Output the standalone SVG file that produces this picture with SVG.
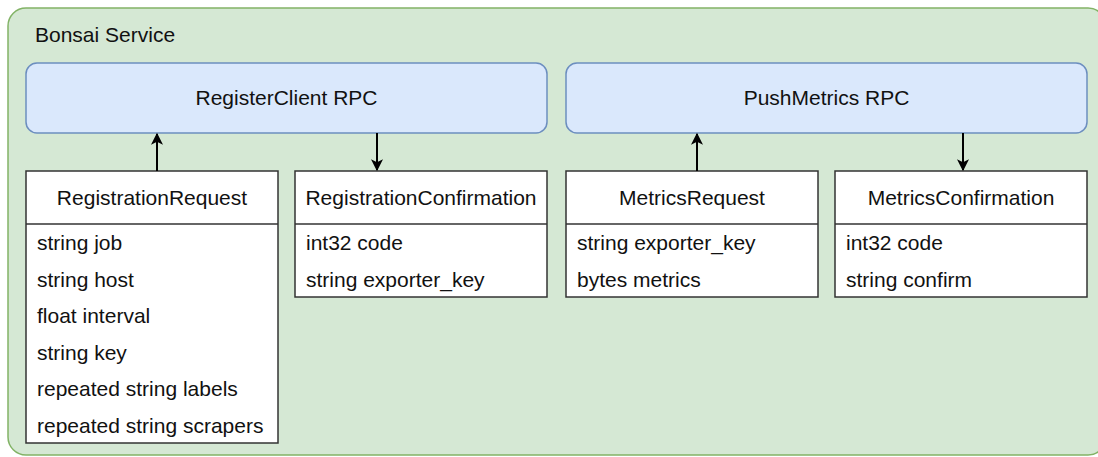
<svg xmlns="http://www.w3.org/2000/svg" width="1098" height="457" viewBox="0 0 1098 457">
  <defs>
    <marker id="arrow" viewBox="0 0 10 10" refX="9" refY="5" markerWidth="6" markerHeight="6" orient="auto" markerUnits="strokeWidth">
      <path d="M0,0 L10,5 L0,10 L2.5,5 z" fill="#000"/>
    </marker>
    <style>
      text { font-family: "Liberation Sans", Arial, Helvetica, sans-serif; font-size: 21px; fill: #111; }
      .container { fill: #d5e8d4; stroke: #82b366; stroke-width: 1.5; }
      .rpc { fill: #dae8fc; stroke: #6c8ebf; stroke-width: 1.5; }
      .box { fill: #ffffff; stroke: #333; stroke-width: 1.5; }
      .sep { stroke: #333; stroke-width: 1.5; }
      .conn { stroke: #000; stroke-width: 2; fill: none; marker-end: url(#arrow); }
      .c { text-anchor: middle; }
    </style>
  </defs>
  <rect width="1098" height="457" fill="#ffffff"/>

  <g id="bonsai-service">
    <rect class="container" x="8" y="8" width="1098" height="447" rx="18"/>
    <text x="35" y="42">Bonsai Service</text>
  </g>

  <g id="register-client-rpc">
    <rect class="rpc" x="26" y="63" width="521" height="70" rx="11"/>
    <text class="c" x="286.5" y="105">RegisterClient RPC</text>
  </g>

  <g id="push-metrics-rpc">
    <rect class="rpc" x="566" y="63" width="521" height="70" rx="11"/>
    <text class="c" x="826.5" y="105">PushMetrics RPC</text>
  </g>

  <g id="registration-request">
    <rect class="box" x="26" y="171" width="252" height="272"/>
    <line class="sep" x1="26" y1="224" x2="278" y2="224"/>
    <text class="c" x="152" y="205">RegistrationRequest</text>
    <text x="37" y="250">string job</text>
    <text x="37" y="286.5">string host</text>
    <text x="37" y="323">float interval</text>
    <text x="37" y="359.5">string key</text>
    <text x="37" y="396">repeated string labels</text>
    <text x="37" y="432.5">repeated string scrapers</text>
  </g>

  <g id="registration-confirmation">
    <rect class="box" x="295" y="171" width="252" height="126"/>
    <line class="sep" x1="295" y1="224" x2="547" y2="224"/>
    <text class="c" x="421" y="205">RegistrationConfirmation</text>
    <text x="306" y="250">int32 code</text>
    <text x="306" y="286.5">string exporter_key</text>
  </g>

  <g id="metrics-request">
    <rect class="box" x="566" y="171" width="252" height="126"/>
    <line class="sep" x1="566" y1="224" x2="818" y2="224"/>
    <text class="c" x="692" y="205">MetricsRequest</text>
    <text x="577" y="250">string exporter_key</text>
    <text x="577" y="286.5">bytes metrics</text>
  </g>

  <g id="metrics-confirmation">
    <rect class="box" x="835" y="171" width="252" height="126"/>
    <line class="sep" x1="835" y1="224" x2="1087" y2="224"/>
    <text class="c" x="961" y="205">MetricsConfirmation</text>
    <text x="846" y="250">int32 code</text>
    <text x="846" y="286.5">string confirm</text>
  </g>

  <g id="connectors">
    <line class="conn" x1="157" y1="171" x2="157" y2="134"/>
    <line class="conn" x1="377" y1="133" x2="377" y2="170"/>
    <line class="conn" x1="697" y1="171" x2="697" y2="134"/>
    <line class="conn" x1="963" y1="133" x2="963" y2="170"/>
  </g>
</svg>
